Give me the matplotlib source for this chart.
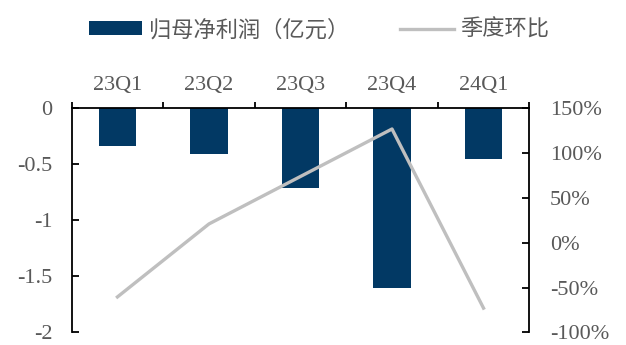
import matplotlib
matplotlib.use("Agg")
import matplotlib.pyplot as plt
import numpy as np
from matplotlib.patches import Patch
from matplotlib.lines import Line2D

# data
quarters = ["23Q1", "23Q2", "23Q3", "23Q4", "24Q1"]
net_profit = [-0.34, -0.41, -0.71, -1.60, -0.45]      # 亿元
qoq_change = [-60.5, 21.0, 74.0, 127.0, -73.0]        # %

BAR_COLOR = "#023964"
LINE_COLOR = "#BFBFBF"
TEXT_COLOR = "#595959"
FS = 16

plt.rcParams["font.family"] = ["Liberation Serif", "Noto Sans CJK SC"]

fig = plt.figure(figsize=(6.26, 3.45), dpi=100)
ax = fig.add_axes([0.1145, 0.0368, 0.731, 0.649])

x = np.arange(len(quarters))
ax.bar(x, net_profit, width=0.41, color=BAR_COLOR, zorder=2)
ax.set_xlim(-0.5, len(quarters) - 0.5)
ax.set_ylim(-2, 0)
ax.set_yticks([0, -0.5, -1, -1.5, -2])
ax.set_yticklabels(["0", "-0.5", "-1", "-1.5", "-2"])

# category labels on top, boundary ticks pointing up
ax.xaxis.tick_top()
ax.set_xticks(np.arange(-0.5, len(quarters), 1.0))
ax.set_xticklabels([])
ax.set_xticks(x, minor=True)
ax.set_xticklabels(quarters, minor=True)
ax.tick_params(axis="x", which="major", direction="out", length=4.5, width=1.3, color="black")
ax.tick_params(axis="x", which="minor", length=0, pad=10, labelsize=FS, labelcolor=TEXT_COLOR)
ax.tick_params(axis="y", direction="in", length=5, width=1.3, pad=14, labelsize=FS,
               labelcolor=TEXT_COLOR)

ax.spines["bottom"].set_visible(False)
ax.spines["right"].set_visible(False)
for s in ("top", "left"):
    ax.spines[s].set_linewidth(1.3)
    ax.spines[s].set_color("black")

ax2 = ax.twinx()
ax2.plot(x, qoq_change, color=LINE_COLOR, linewidth=2.4, zorder=3)
ax2.set_ylim(-100, 150)
ax2.set_yticks(np.arange(-100, 151, 50))
ax2.set_yticklabels([f"{v}%" for v in range(-100, 151, 50)])
ax2.tick_params(axis="y", direction="in", length=5, width=1.3, pad=15, labelsize=FS,
                labelcolor=TEXT_COLOR)
for s in ("top", "bottom", "left"):
    ax2.spines[s].set_visible(False)
ax2.spines["right"].set_linewidth(1.3)
ax2.spines["right"].set_color("black")

handles = [Patch(facecolor=BAR_COLOR, edgecolor="none"),
           Line2D([0], [0], color=LINE_COLOR, linewidth=2.4)]
labels = ["归母净利润（亿元）", "季度环比"]
leg = fig.legend(handles, labels, loc="center", bbox_to_anchor=(0.51, 0.912), ncol=2,
                 frameon=False, fontsize=FS, handlelength=2.4, handleheight=0.6,
                 handletextpad=0.3, columnspacing=2.3, borderpad=0)
for t in leg.get_texts():
    t.set_color(TEXT_COLOR)

fig.savefig("out.png", dpi=100)
